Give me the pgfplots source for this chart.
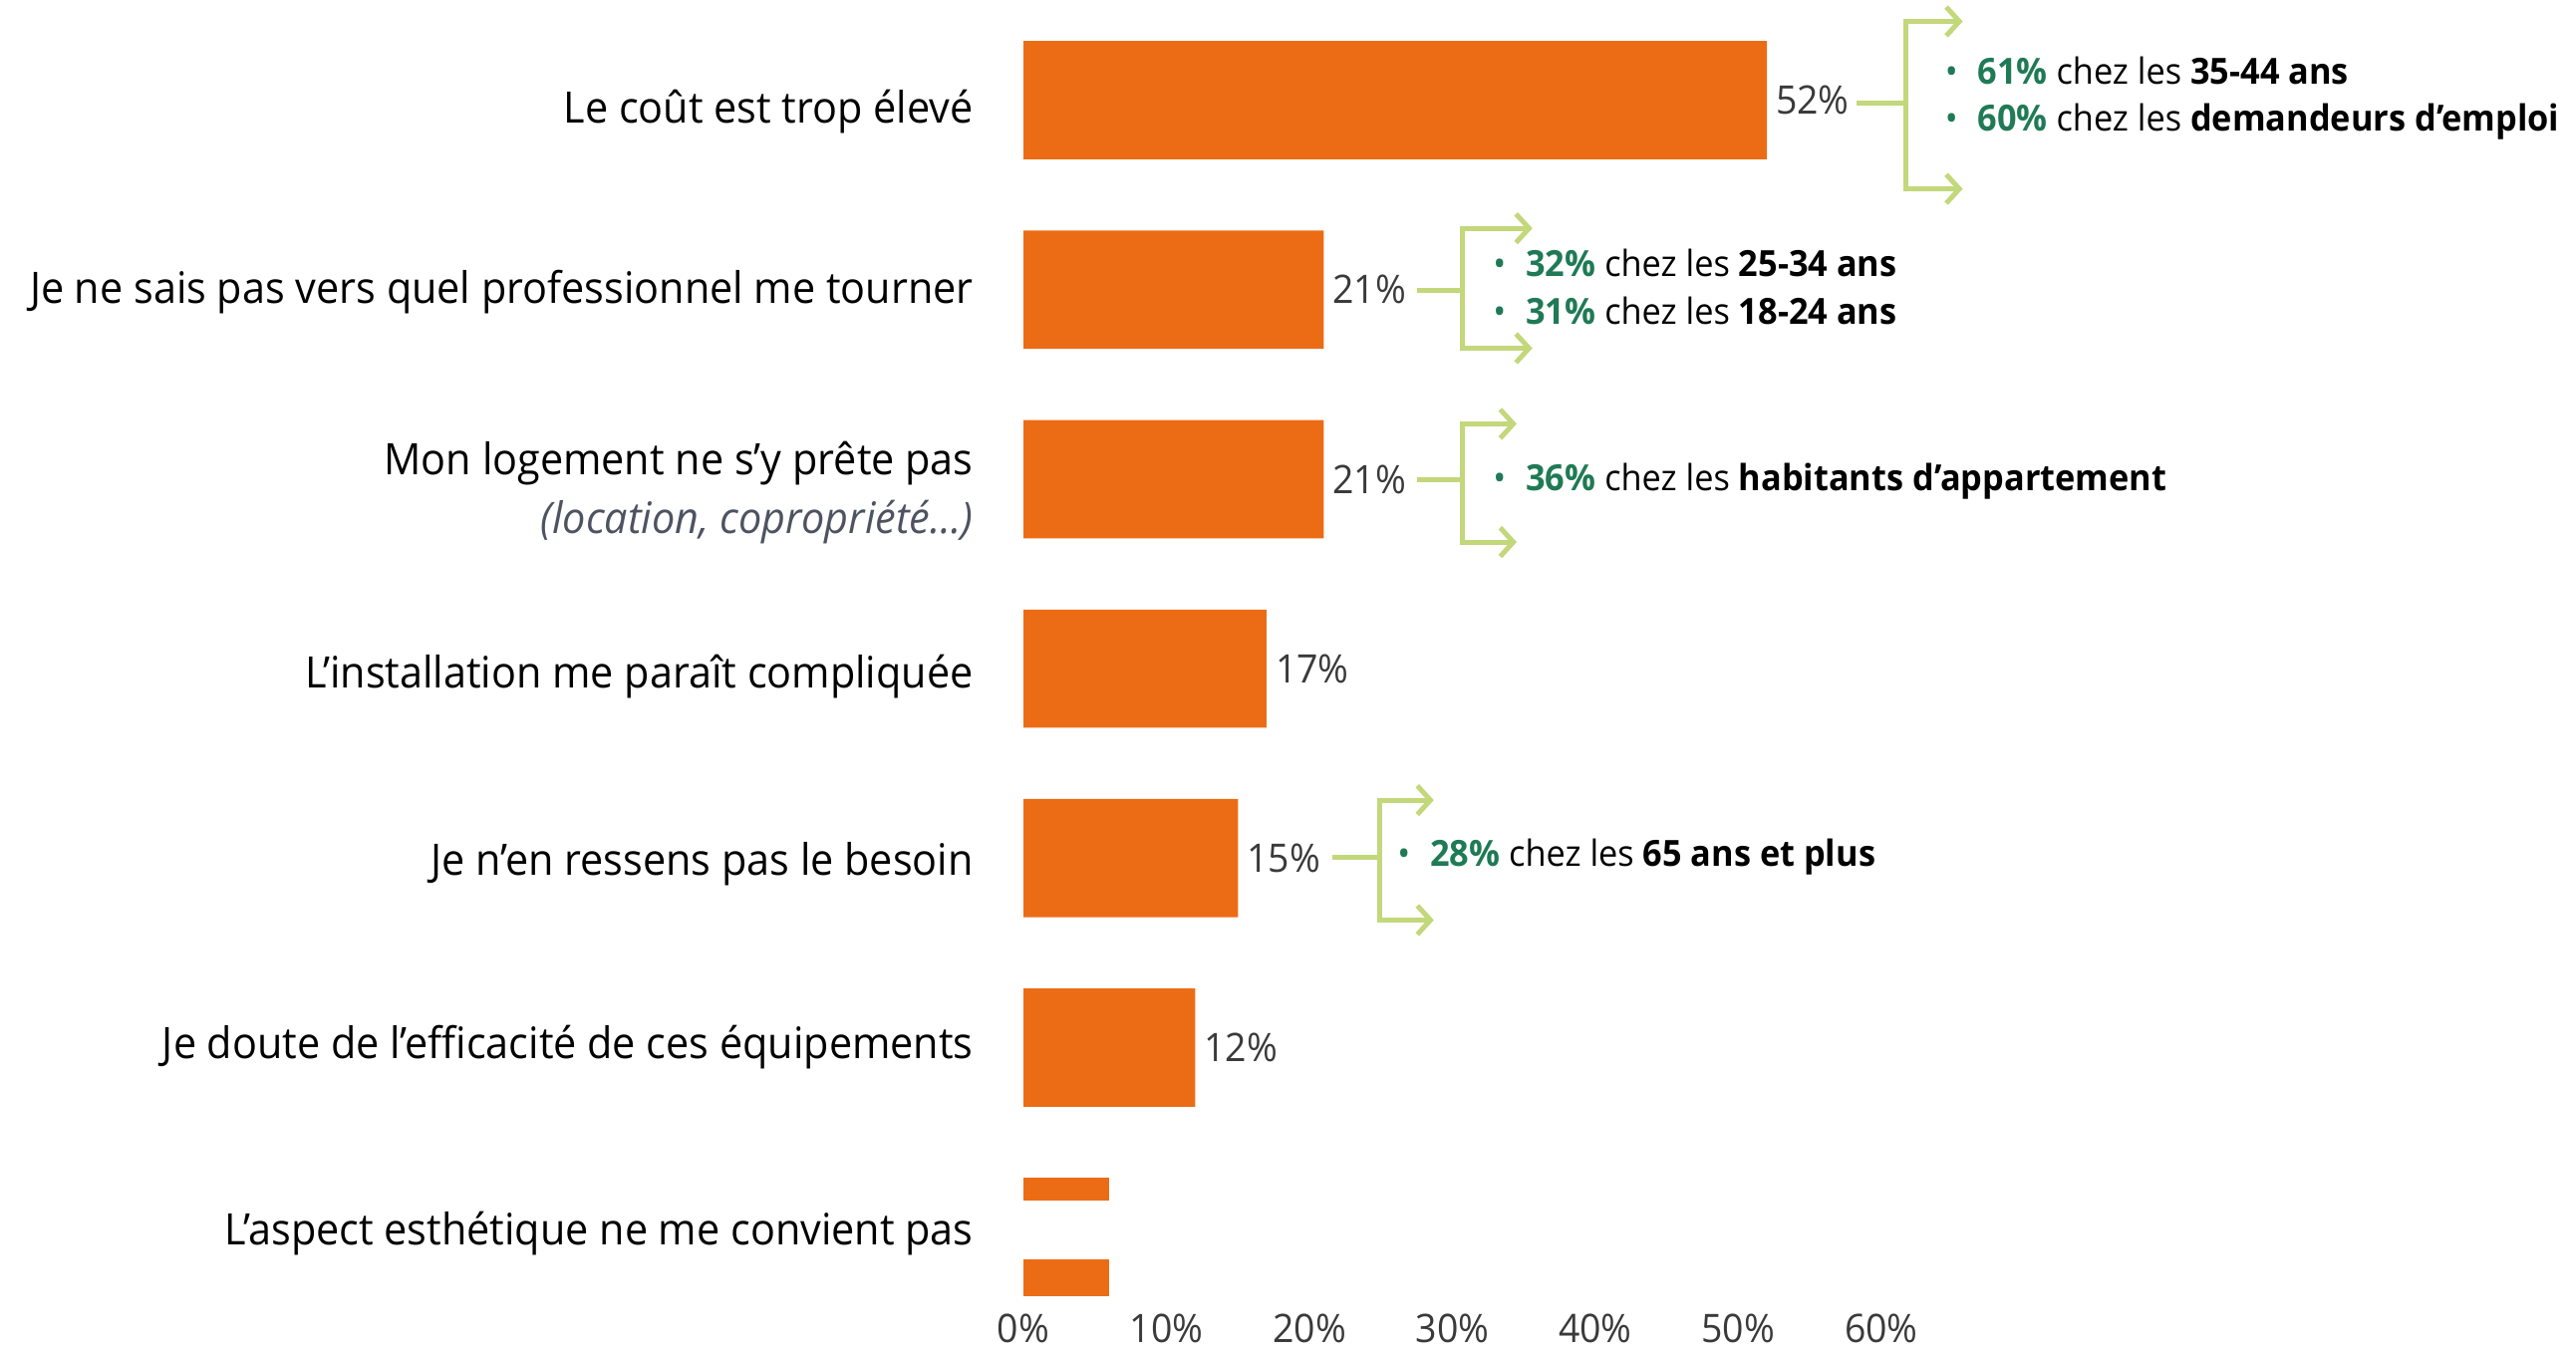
\documentclass[border=0pt]{standalone}
\usepackage{fontspec}
\setmainfont{Open Sans}[FakeStretch=0.95]
\usepackage{pgfplots}
\pgfplotsset{compat=1.18}
\usetikzlibrary{arrows.meta}
\definecolor{barorange}{HTML}{EC6C16}
\definecolor{brgreen}{HTML}{C3D77B}
\definecolor{txgreen}{HTML}{1F7A55}
\definecolor{valgray}{HTML}{3A3A3A}
\definecolor{labgray}{HTML}{4D5360}

\newcommand{\pct}[1]{{\color{txgreen}\textbf{#1}}}
\newcommand{\bul}{{\color{txgreen}\textbullet}\hspace{0.55em}}

\tikzset{
  bracket/.style={draw=brgreen, line width=1.2bp,
    {Straight Barb[length=3.2bp, width=7bp]}-{Straight Barb[length=3.2bp, width=7bp]}},
  stub/.style={draw=brgreen, line width=1.2bp},
  note/.style={anchor=west, align=left, inner sep=0pt,
    font=\fontsize{8.8}{11.6}\selectfont}
}

\begin{document}
\begin{tikzpicture}
\begin{axis}[
  scale only axis,
  width=208.8bp, height=311.4bp,
  xbar, bar width=28.8bp, bar shift=0pt,
  xmin=0, xmax=60, ymin=-0.4, ymax=6.35,
  y dir=reverse,
  clip=false,
  axis line style={draw=none},
  major tick style={draw=none},
  xtick={0,10,...,60},
  xticklabel={\pgfmathprintnumber{\tick}\%},
  /pgf/number format/assume math mode=true,
  x tick label style={font=\fontsize{9.6}{10}\selectfont, text=valgray,
    inner sep=0pt, yshift=-2.4bp},
  % label rows sit slightly off the bar centres in the source
  ytick={0.06,1.01,2.07,3.04,4.03,5,5.98},
  yticklabels={
    {Le coût est trop élevé},
    {Je ne sais pas vers quel professionnel me tourner},
    {Mon logement ne s’y prête pas\\{\itshape\color{labgray}(location, copropriété…)}},
    {L’installation me paraît compliquée},
    {Je n’en ressens pas le besoin},
    {Je doute de l’efficacité de ces équipements},
    {L’aspect esthétique ne me convient pas}},
  y tick label style={font=\fontsize{10.6}{14.4}\selectfont, align=right,
    text=black, inner sep=0pt, xshift=-7.8bp},
]
\addplot[fill=barorange, draw=none,
  nodes near coords={\pgfmathprintnumber{\pgfplotspointmeta}\%},
  every node near coord/.append style={font=\fontsize{9.6}{10}\selectfont,
    text=valgray, anchor=west, inner sep=2bp}]
  coordinates {(52,0) (21,1) (21,2) (17,3) (15,4) (12,5)};
\addplot[fill=barorange, draw=none] coordinates {(6,6)};

% white band across the last bar, as in the source
\fill[white] (axis cs:-0.5,5.81) rectangle (axis cs:7,6.12);

% brackets
\draw[stub] (axis cs:58.3,0.017) -- (axis cs:61.7,0.017);
\draw[bracket] (axis cs:65.7,-0.416) -- (axis cs:61.7,-0.416) -- (axis cs:61.7,0.468) -- (axis cs:65.7,0.468);
\node[note] at (axis cs:64.4,-0.01) {\bul\pct{61\%} chez les \textbf{35-44 ans}\\\bul\pct{60\%} chez les \textbf{demandeurs d’emploi}};

\draw[stub] (axis cs:27.5,1.006) -- (axis cs:30.7,1.006);
\draw[bracket] (axis cs:35.6,0.676) -- (axis cs:30.7,0.676) -- (axis cs:30.7,1.309) -- (axis cs:35.6,1.309);
\node[note] at (axis cs:32.8,0.984) {\bul\pct{32\%} chez les \textbf{25-34 ans}\\\bul\pct{31\%} chez les \textbf{18-24 ans}};

\draw[stub] (axis cs:27.5,2.003) -- (axis cs:30.7,2.003);
\draw[bracket] (axis cs:34.5,1.708) -- (axis cs:30.7,1.708) -- (axis cs:30.7,2.332) -- (axis cs:34.5,2.332);
\node[note] at (axis cs:32.8,2.01) {\bul\pct{36\%} chez les \textbf{habitants d’appartement}};

\draw[stub] (axis cs:21.6,3.997) -- (axis cs:24.9,3.997);
\draw[bracket] (axis cs:28.7,3.694) -- (axis cs:24.9,3.694) -- (axis cs:24.9,4.327) -- (axis cs:28.7,4.327);
\node[note] at (axis cs:26.1,3.995) {\bul\pct{28\%} chez les \textbf{65 ans et plus}};

% page extent
\path (axis cs:-71.6,-0.529) rectangle (axis cs:108.6,6.6);
\end{axis}
\end{tikzpicture}
\end{document}
